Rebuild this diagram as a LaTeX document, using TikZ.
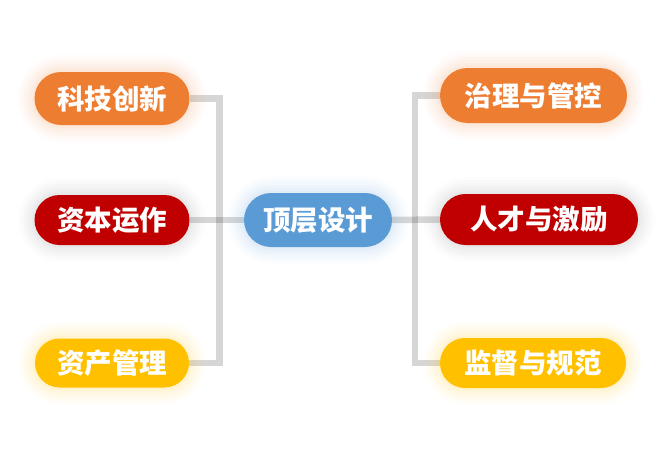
\documentclass[tikz,border=0pt]{standalone}
\usepackage{fontspec}
\newfontfamily\cjk{Noto Sans CJK SC}
\usetikzlibrary{shapes.misc,backgrounds}
\definecolor{pillorange}{HTML}{ED7D31}
\definecolor{pillred}{HTML}{C00000}
\definecolor{pillyellow}{HTML}{FFC000}
\definecolor{pillblue}{HTML}{5B9BD5}
\begin{document}
\begin{tikzpicture}[
    x=1pt, y=-1pt,
    glow/.style={
        preaction={draw=#1, line width=34, draw opacity=.02},
        preaction={draw=#1, line width=28, draw opacity=.025},
        preaction={draw=#1, line width=22, draw opacity=.03},
        preaction={draw=#1, line width=16, draw opacity=.035},
        preaction={draw=#1, line width=10, draw opacity=.04},
        preaction={draw=#1, line width=5, draw opacity=.05}
    },
    pill/.style={
        rounded rectangle,
        inner sep=0pt,
        minimum height=52,
        text=white,
        font=\cjk\bfseries\fontsize{27.5}{30}\selectfont
    },
    hot/.style={pill, fill=pillorange, glow=pillorange},
    deep/.style={pill, fill=pillred, glow=black!50},
    warm/.style={pill, fill=pillyellow, glow=pillyellow},
    core/.style={pill, fill=pillblue, glow=pillblue},
    link/.style={draw=black, opacity=.16, line width=6.5}
]
    \useasboundingbox (0,0) rectangle (658,452);

    \node[hot, minimum width=155, minimum height=53] (tech) at (112,98.5) {科技创新};
    \node[deep, minimum width=155, minimum height=50] (capital) at (112,220) {资本运作};
    \node[warm, minimum width=154, minimum height=49] (asset) at (112,363) {资产管理};

    \node[core, minimum width=148, minimum height=54] (design) at (318,220) {顶层设计};

    \node[hot, minimum width=187, minimum height=55] (govern) at (533.5,95.5) {治理与管控};
    \node[deep, minimum width=198, minimum height=51] (talent) at (539,219.5) {人才与激励};
    \node[warm, minimum width=186, minimum height=50] (supervise) at (533,363) {监督与规范};

    \coordinate (ljoin) at (219.5,220);
    \coordinate (rjoin) at (415,220);

    \begin{scope}[on background layer]
        \draw[link] (tech.east) -| (ljoin) |- (asset.east);
        \draw[link] (govern.west) -| (rjoin) |- (supervise.west);
        \draw[link] (capital.east) -- (design.west);
        \draw[link] (design.east) -- (talent.west);
    \end{scope}
\end{tikzpicture}
\end{document}
